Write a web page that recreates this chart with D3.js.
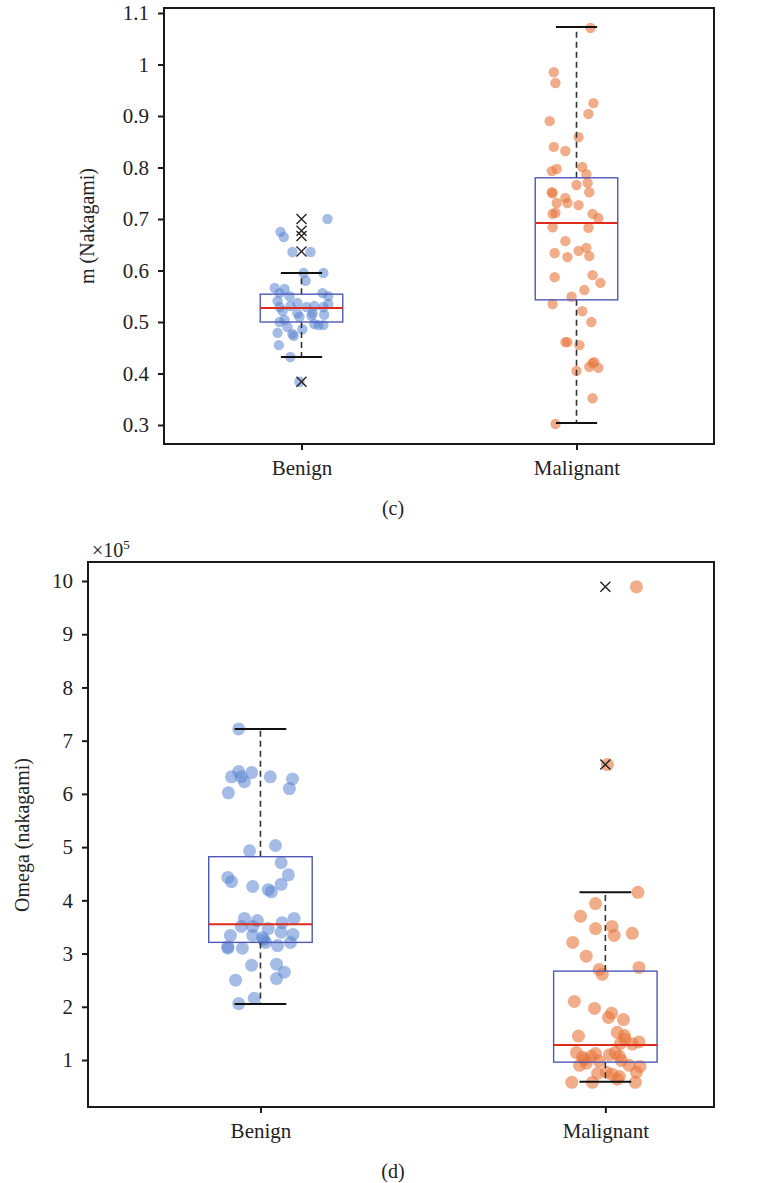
<!DOCTYPE html>
<html>
<head>
<meta charset="utf-8">
<script src="https://cdn.jsdelivr.net/npm/d3@7"></script>
<style>
  html, body { margin: 0; padding: 0; background: #fff; }
  svg { display: block; }
  text { font-family: "Liberation Serif", "DejaVu Serif", serif; fill: #222; }
</style>
</head>
<body>
<svg id="chart" width="765" height="1183"></svg>
<script>
// ---------- DATA ----------
const categories = ["Benign", "Malignant"];

// Panel (c): m (Nakagami)
const mTicks = [0.3, 0.4, 0.5, 0.6, 0.7, 0.8, 0.9, 1.0, 1.1];
const mBenign = [0.700, 0.675, 0.665, 0.636, 0.636, 0.595, 0.595, 0.580, 0.566, 0.564, 0.556, 0.550, 0.556, 0.550,
  0.541, 0.537, 0.535, 0.529, 0.531, 0.529, 0.531, 0.529, 0.521, 0.517, 0.517, 0.514, 0.510, 0.500, 0.504, 0.512,
  0.496, 0.494, 0.494, 0.490, 0.486, 0.479, 0.477, 0.473, 0.455, 0.432, 0.384];
const mBenignJitter = [0.63, -0.51, -0.43, -0.22, 0.22, 0.05, 0.53, 0.10, -0.65, -0.41, -0.53, -0.29, 0.51, 0.65,
  -0.58, -0.10, 0.65, -0.53, -0.27, 0.12, 0.31, 0.53, -0.46, -0.10, 0.27, 0.55, -0.05, -0.53, -0.41, 0.24,
  0.31, 0.41, 0.53, -0.34, 0.02, -0.58, -0.22, -0.19, -0.55, -0.27, -0.05];
const mMalignant = [1.071, 0.985, 0.964, 0.925, 0.904, 0.890, 0.859, 0.840, 0.832, 0.793, 0.797, 0.801, 0.787, 0.770,
  0.766, 0.752, 0.750, 0.752, 0.731, 0.731, 0.741, 0.727, 0.710, 0.712, 0.710, 0.702, 0.684, 0.683, 0.657, 0.634,
  0.626, 0.638, 0.644, 0.628, 0.587, 0.591, 0.576, 0.562, 0.549, 0.535, 0.521, 0.500, 0.461, 0.461, 0.455, 0.422,
  0.420, 0.413, 0.411, 0.405, 0.352, 0.302];
const mMalignantJitter = [0.34, -0.55, -0.51, 0.41, 0.29, -0.65, 0.05, -0.55, -0.27, -0.60, -0.48, 0.14, 0.24, 0.27,
  0.00, 0.31, -0.58, -0.60, -0.48, -0.22, -0.27, 0.05, -0.58, -0.51, 0.39, 0.53, -0.58, 0.29, -0.27, -0.53,
  -0.22, 0.05, 0.24, 0.31, -0.53, 0.39, 0.58, 0.19, -0.12, -0.58, 0.14, 0.36, -0.27, -0.22, 0.07, 0.43,
  0.39, 0.31, 0.53, 0.00, 0.39, -0.51];
const mQ1 = [0.500, 0.543];
const mMedian = [0.527, 0.692];
const mQ3 = [0.554, 0.780];
const mWhiskerLow = [0.432, 0.304];
const mWhiskerHigh = [0.595, 1.073];
const mOutliers = [[0.700, 0.677, 0.667, 0.637, 0.384], []];

// Panel (d): Omega (nakagami), in units of 1e5
const omegaTicks = [1, 2, 3, 4, 5, 6, 7, 8, 9, 10];
const omegaBenign = [7.22, 6.42, 6.32, 6.32, 6.23, 6.40, 6.32, 6.28, 6.10, 6.02, 4.93, 5.03, 4.71, 4.48, 4.43, 4.35,
  4.26, 4.20, 4.16, 4.30, 3.66, 3.62, 3.51, 3.51, 3.47, 3.58, 3.66, 3.34, 3.34, 3.40, 3.36, 3.26, 3.21, 3.13, 3.10,
  3.10, 3.15, 3.21, 2.78, 2.80, 2.65, 2.53, 2.50, 2.16, 2.06, 3.30];
const omegaBenignJitter = [-0.42, -0.42, -0.56, -0.37, -0.31, -0.17, 0.19, 0.62, 0.56, -0.62, -0.21, 0.29, 0.40, 0.54,
  -0.63, -0.56, -0.15, 0.15, 0.21, 0.40, -0.31, -0.06, -0.37, -0.15, 0.15, 0.42, 0.65, -0.58, -0.15, 0.40, 0.63,
  0.06, 0.10, -0.63, -0.63, -0.35, 0.33, 0.58, -0.17, 0.31, 0.46, 0.31, -0.48, -0.12, -0.42, 0.04];
const omegaMalignant = [9.89, 6.55, 4.15, 3.94, 3.70, 3.47, 3.51, 3.34, 3.38, 3.21, 2.95, 2.70, 2.61, 2.74, 2.10,
  1.97, 1.88, 1.80, 1.76, 1.45, 1.52, 1.46, 1.39, 1.31, 1.30, 1.34, 1.14, 1.01, 1.07, 1.12, 1.10, 1.14, 1.07,
  0.90, 0.94, 0.98, 0.99, 0.90, 0.88, 0.77, 0.75, 0.69, 0.77, 0.58, 0.58, 0.64, 0.58, 0.73, 1.05];
const omegaMalignantJitter = [0.60, 0.04, 0.63, -0.19, -0.48, -0.19, 0.13, 0.17, 0.52, -0.63, -0.37, -0.12, -0.06, 0.65,
  -0.60, -0.21, 0.12, 0.06, 0.35, -0.52, 0.23, 0.37, 0.38, 0.29, 0.52, 0.65, -0.56, -0.40, -0.27, -0.19, 0.08,
  0.19, 0.27, -0.50, -0.37, -0.12, 0.31, 0.46, 0.67, 0.02, -0.15, 0.27, 0.60, -0.65, -0.25, 0.23, 0.58, 0.13, -0.44];
const omegaQ1 = [3.21, 0.96];
const omegaMedian = [3.55, 1.28];
const omegaQ3 = [4.82, 2.67];
const omegaWhiskerLow = [2.05, 0.59];
const omegaWhiskerHigh = [7.22, 4.15];
const omegaOutliers = [[], [9.89, 6.55]];

// ---------- DRAWING ----------
const svg = d3.select("#chart");
const pointColors = ["#5A85D2", "#E8763A"];
const BOX_HALF = 0.15;   // half box width in category units
const CAP_HALF = 0.075;

function panel(o) {
  const x = d3.scaleLinear().domain(o.xDomain).range([o.left, o.right]);
  const y = d3.scaleLinear().domain(o.yDomain).range([o.bottom, o.top]);
  const g = svg.append("g");

  // y axis
  const ya = g.append("g").attr("transform", `translate(${o.left},0)`)
    .call(d3.axisLeft(y).tickValues(o.ticks).tickFormat(o.fmt).tickSize(6).tickPadding(o.yPad));
  ya.select(".domain").remove();
  ya.selectAll(".tick line").attr("stroke", "#1a1a1a").attr("stroke-width", 2);
  ya.selectAll(".tick text").attr("font-size", 21).attr("font-family", "Liberation Serif").attr("fill", "#222");

  // x axis
  const xa = g.append("g").attr("transform", `translate(0,${o.bottom})`)
    .call(d3.axisBottom(x).tickValues([1, 2]).tickFormat((d, i) => categories[i]).tickSize(6).tickPadding(10));
  xa.select(".domain").remove();
  xa.selectAll(".tick line").attr("stroke", "#1a1a1a").attr("stroke-width", 2);
  xa.selectAll(".tick text").attr("font-size", 21).attr("font-family", "Liberation Serif").attr("fill", "#222");

  // points
  o.series.forEach((vals, i) => {
    g.append("g").selectAll("circle")
      .data(vals.map((v, j) => ({ v, jit: o.jitters[i][j] })))
      .join("circle")
      .attr("cx", d => x(i + 1 + d.jit * BOX_HALF))
      .attr("cy", d => y(d.v))
      .attr("r", o.r)
      .attr("fill", pointColors[i])
      .attr("fill-opacity", i === 0 ? 0.55 : 0.6);
  });

  // boxes
  categories.forEach((c, i) => {
    const cx = i + 1;
    const bg = g.append("g");
    bg.append("line").attr("x1", x(cx)).attr("x2", x(cx))
      .attr("y1", y(o.q3[i])).attr("y2", y(o.hi[i]))
      .attr("stroke", "#333").attr("stroke-width", 1.6).attr("stroke-dasharray", "6,4");
    bg.append("line").attr("x1", x(cx)).attr("x2", x(cx))
      .attr("y1", y(o.q1[i])).attr("y2", y(o.lo[i]))
      .attr("stroke", "#333").attr("stroke-width", 1.6).attr("stroke-dasharray", "6,4");
    [o.hi[i], o.lo[i]].forEach(v => {
      bg.append("line").attr("x1", x(cx - CAP_HALF)).attr("x2", x(cx + CAP_HALF))
        .attr("y1", y(v)).attr("y2", y(v)).attr("stroke", "#111").attr("stroke-width", 2);
    });
    bg.append("rect").attr("x", x(cx - BOX_HALF)).attr("y", y(o.q3[i]))
      .attr("width", x(cx + BOX_HALF) - x(cx - BOX_HALF)).attr("height", y(o.q1[i]) - y(o.q3[i]))
      .attr("fill", "none").attr("stroke", "#4F58B8").attr("stroke-width", 1.4);
    bg.append("line").attr("x1", x(cx - BOX_HALF)).attr("x2", x(cx + BOX_HALF))
      .attr("y1", y(o.med[i])).attr("y2", y(o.med[i]))
      .attr("stroke", "#DD2A1B").attr("stroke-width", 2);
    const s = 5;
    o.outliers[i].forEach(v => {
      const px = x(cx), py = y(v);
      bg.append("path").attr("d", `M${px - s},${py - s}L${px + s},${py + s}M${px - s},${py + s}L${px + s},${py - s}`)
        .attr("stroke", "#222").attr("stroke-width", 1.4).attr("fill", "none");
    });
  });

  // frame
  g.append("rect").attr("x", o.left).attr("y", o.top)
    .attr("width", o.right - o.left).attr("height", o.bottom - o.top)
    .attr("fill", "none").attr("stroke", "#1a1a1a").attr("stroke-width", 2);

  // y label
  g.append("text").attr("transform", `translate(${o.yLabelX},${o.yLabelY}) rotate(-90)`)
    .attr("text-anchor", "middle").attr("font-size", 20).text(o.yLabel);

  // caption
  g.append("text").attr("x", 393).attr("y", o.captionY).attr("text-anchor", "middle")
    .attr("font-size", 20).text(o.caption);
  return { x, y };
}

panel({
  left: 164, right: 714, top: 8, bottom: 444,
  xDomain: [0.5, 2.5], yDomain: [0.2631, 1.1097],
  ticks: mTicks, fmt: d => String(+d.toFixed(1)), yPad: 9,
  series: [mBenign, mMalignant], jitters: [mBenignJitter, mMalignantJitter],
  q1: mQ1, med: mMedian, q3: mQ3, lo: mWhiskerLow, hi: mWhiskerHigh, outliers: mOutliers,
  r: 5.2, yLabel: "m (Nakagami)", yLabelX: 94, yLabelY: 226, caption: "(c)", captionY: 515
});

panel({
  left: 88, right: 714, top: 562, bottom: 1107,
  xDomain: [0.5, 2.315], yDomain: [0.117, 10.357],
  ticks: omegaTicks, fmt: d => String(d), yPad: 9,
  series: [omegaBenign, omegaMalignant], jitters: [omegaBenignJitter, omegaMalignantJitter],
  q1: omegaQ1, med: omegaMedian, q3: omegaQ3, lo: omegaWhiskerLow, hi: omegaWhiskerHigh, outliers: omegaOutliers,
  r: 6.5, yLabel: "Omega (nakagami)", yLabelX: 29, yLabelY: 835, caption: "(d)", captionY: 1178
});

// exponent label
const ex = svg.append("text").attr("x", 92).attr("y", 557).attr("font-size", 20);
ex.append("tspan").text("×10");
ex.append("tspan").attr("font-size", 13).attr("dy", -8).text("5");
</script>
</body>
</html>
